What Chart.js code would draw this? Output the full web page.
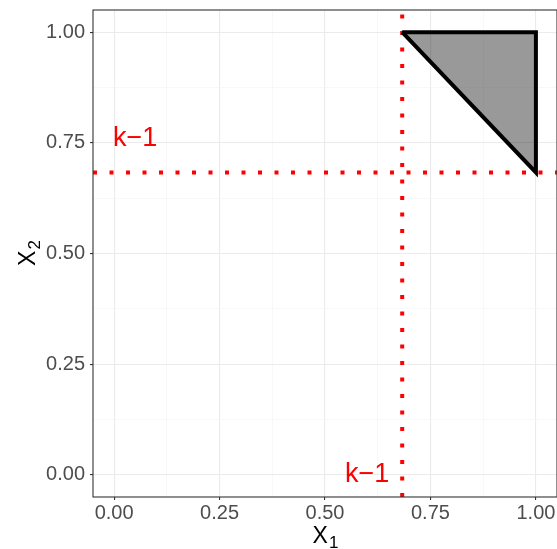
<!DOCTYPE html>
<html>
<head>
<meta charset="utf-8">
<script src="https://cdn.jsdelivr.net/npm/chart.js@4"></script>
<style>
    body { margin: 0; background: #fff; }
    canvas { display: block; }
</style>
</head>
<body>
<canvas id="chart" width="557" height="549"></canvas>
<script>
// Data
const k = 0.683;
const triangleX = [k, 1, 1, k];
const triangleY = [1, 1, k, 1];
const vLineX = [k, k];
const vLineY = [-0.05, 1.05];
const hLineX = [-0.05, 1.05];
const hLineY = [k, k];
const majorTicks = [0, 0.25, 0.5, 0.75, 1];
const minorTicks = [0.125, 0.375, 0.625, 0.875];
const labelText = ['k\u22121', 'k\u22121'];
const labelX = [0.05, 0.6];
const labelY = [0.76, 0.0];

const FONT = '"Liberation Sans", Arial, sans-serif';

function toPoints(xs, ys) {
    return xs.map((x, i) => ({ x: x, y: ys[i] }));
}

function isMajor(v) {
    return majorTicks.some(t => Math.abs(t - v) < 1e-9);
}

function setTicks(scale) {
    scale.ticks = majorTicks.concat(minorTicks).sort((a, b) => a - b).map(v => ({ value: v }));
}

// keep the panel where ggplot puts it: no auto padding for labels
function fixSize(scale, w, h) {
    if (w) scale.width = w;
    if (h) scale.height = h;
    scale.paddingTop = 0;
    scale.paddingBottom = 0;
    scale.paddingLeft = 0;
    scale.paddingRight = 0;
}

const grid = {
    color: c => isMajor(c.tick.value) ? '#EBEBEB' : '#F4F4F4',
    lineWidth: c => isMajor(c.tick.value) ? 1.1 : 0.6,
    tickColor: c => isMajor(c.tick.value) ? '#333333' : 'rgba(0,0,0,0)',
    tickLength: 3,
    tickWidth: 1.1
};

const tickStyle = {
    autoSkip: false,
    maxRotation: 0,
    color: '#4D4D4D',
    font: { family: FONT, size: 20 },
    callback: v => isMajor(v) ? v.toFixed(2) : ''
};

// Text with a subscript, centred on x
function drawSub(ctx, main, sub, x, y) {
    ctx.font = '23px ' + FONT;
    const w1 = ctx.measureText(main).width;
    ctx.font = '17px ' + FONT;
    const w2 = ctx.measureText(sub).width;
    const start = x - (w1 + w2) / 2;
    ctx.textAlign = 'left';
    ctx.textBaseline = 'alphabetic';
    ctx.font = '23px ' + FONT;
    ctx.fillText(main, start, y);
    ctx.font = '17px ' + FONT;
    ctx.fillText(sub, start + w1 + 1, y + 5);
}

const decorations = {
    id: 'decorations',
    afterDatasetsDraw(chart) {
        const ctx = chart.ctx;
        const xs = chart.scales.x;
        const ys = chart.scales.y;
        const a = chart.chartArea;

        // k-1 labels
        ctx.save();
        ctx.fillStyle = '#FF0000';
        ctx.font = '27px ' + FONT;
        ctx.textAlign = 'center';
        ctx.textBaseline = 'middle';
        labelText.forEach((t, i) => {
            ctx.fillText(t, xs.getPixelForValue(labelX[i]), ys.getPixelForValue(labelY[i]));
        });
        ctx.restore();

        // panel border
        ctx.save();
        ctx.strokeStyle = '#333333';
        ctx.lineWidth = 1.1;
        ctx.strokeRect(a.left, a.top, a.right - a.left, a.bottom - a.top);
        ctx.restore();
    },
    afterDraw(chart) {
        const ctx = chart.ctx;
        const a = chart.chartArea;
        ctx.save();
        ctx.fillStyle = '#000000';
        drawSub(ctx, 'X', '1', (a.left + a.right) / 2, 543);
        ctx.translate(35, (a.top + a.bottom) / 2);
        ctx.rotate(-Math.PI / 2);
        drawSub(ctx, 'X', '2', 0, 0);
        ctx.restore();
    }
};

new Chart(document.getElementById('chart').getContext('2d'), {
    type: 'scatter',
    data: {
        datasets: [
            {
                data: toPoints(triangleX, triangleY),
                showLine: true,
                fill: 'shape',
                backgroundColor: 'rgba(0,0,0,0.4)',
                borderColor: '#000000',
                borderWidth: 4,
                borderJoinStyle: 'miter',
                pointRadius: 0
            },
            {
                data: toPoints(vLineX, vLineY),
                showLine: true,
                borderColor: '#FF0000',
                borderWidth: 4,
                borderDash: [4, 12.5],
                borderCapStyle: 'butt',
                pointRadius: 0
            },
            {
                data: toPoints(hLineX, hLineY),
                showLine: true,
                borderColor: '#FF0000',
                borderWidth: 4,
                borderDash: [4, 12.5],
                borderCapStyle: 'butt',
                pointRadius: 0
            }
        ]
    },
    options: {
        responsive: false,
        animation: false,
        devicePixelRatio: 1,
        layout: { padding: { left: 0, right: -1, top: 10, bottom: 0 } },
        plugins: {
            legend: { display: false },
            tooltip: { enabled: false }
        },
        scales: {
            x: {
                type: 'linear',
                min: -0.05,
                max: 1.05,
                afterBuildTicks: setTicks,
                afterFit: s => fixSize(s, 0, 52),
                grid: grid,
                border: { display: false },
                ticks: Object.assign({ padding: 1 }, tickStyle)
            },
            y: {
                type: 'linear',
                min: -0.05,
                max: 1.05,
                afterBuildTicks: setTicks,
                afterFit: s => fixSize(s, 93, 0),
                grid: grid,
                border: { display: false },
                ticks: Object.assign({ padding: 5 }, tickStyle)
            }
        }
    },
    plugins: [decorations]
});
</script>
</body>
</html>
